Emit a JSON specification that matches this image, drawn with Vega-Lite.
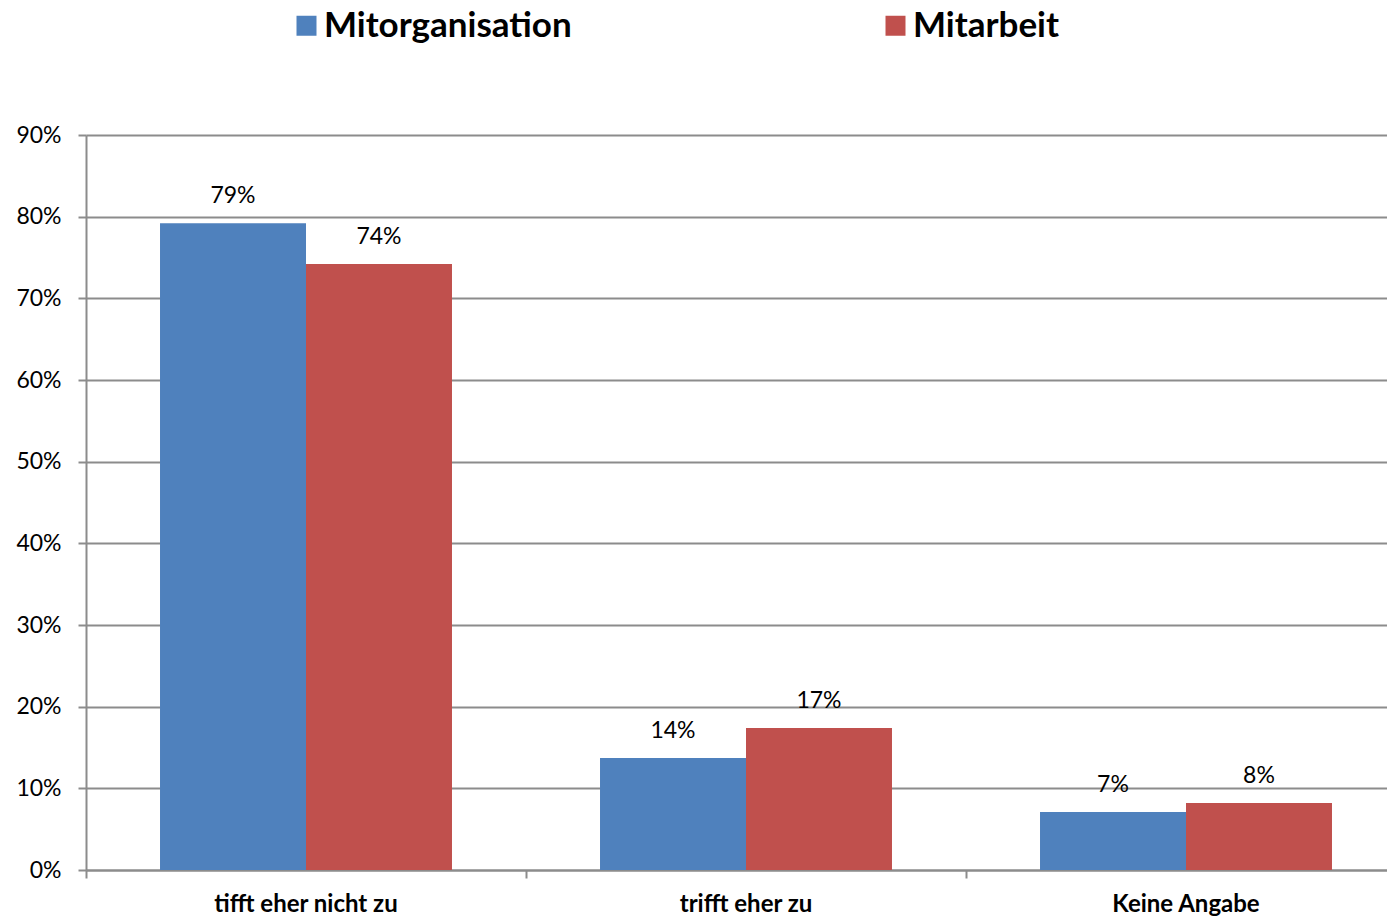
{
  "$schema": "https://vega.github.io/schema/vega-lite/v6.json",
  "width": 1301,
  "height": 735,
  "autosize": {"type": "none"},
  "padding": {"left": 86, "top": 135, "right": 0, "bottom": 49},
  "background": "white",
  "config": {
    "view": {"stroke": null},
    "font": "Lato"
  },
  "data": {
    "values": [
      {"kategorie": "tifft eher nicht zu", "serie": "Mitorganisation", "wert": 0.792},
      {"kategorie": "tifft eher nicht zu", "serie": "Mitarbeit", "wert": 0.742},
      {"kategorie": "trifft eher zu", "serie": "Mitorganisation", "wert": 0.137},
      {"kategorie": "trifft eher zu", "serie": "Mitarbeit", "wert": 0.174},
      {"kategorie": "Keine Angabe", "serie": "Mitorganisation", "wert": 0.071},
      {"kategorie": "Keine Angabe", "serie": "Mitarbeit", "wert": 0.082}
    ]
  },
  "encoding": {
    "x": {
      "field": "kategorie",
      "type": "nominal",
      "sort": ["tifft eher nicht zu", "trifft eher zu", "Keine Angabe"],
      "scale": {"range": [0, 1320], "paddingInner": 0, "paddingOuter": 0},
      "axis": {
        "title": null,
        "labelAngle": 0,
        "bandPosition": 0,
        "labelFontSize": 24,
        "labelFontWeight": "bold",
        "labelColor": "black",
        "labelPadding": 14,
        "labelLimit": 400,
        "tickSize": 8,
        "tickColor": "#8c8c8c",
        "tickWidth": 2,
        "domainColor": "#8c8c8c",
        "domainWidth": 2,
        "grid": false
      }
    },
    "xOffset": {
      "field": "serie",
      "type": "nominal",
      "sort": ["Mitorganisation", "Mitarbeit"],
      "scale": {"paddingInner": 0, "paddingOuter": 0.507}
    },
    "y": {
      "field": "wert",
      "type": "quantitative",
      "scale": {"domain": [0, 0.9], "nice": false},
      "axis": {
        "title": null,
        "format": ".0%",
        "values": [0, 0.1, 0.2, 0.3, 0.4, 0.5, 0.6, 0.7, 0.8, 0.9],
        "labelFontSize": 23,
        "labelColor": "black",
        "labelPadding": 17,
        "tickSize": 8,
        "tickColor": "#8c8c8c",
        "tickWidth": 2,
        "domainColor": "#8c8c8c",
        "domainWidth": 2,
        "grid": true,
        "gridColor": "#8c8c8c",
        "gridWidth": 2
      }
    }
  },
  "layer": [
    {
      "mark": {"type": "bar"},
      "encoding": {
        "color": {
          "field": "serie",
          "type": "nominal",
          "sort": ["Mitorganisation", "Mitarbeit"],
          "scale": {"domain": ["Mitorganisation", "Mitarbeit"], "range": ["#4F81BD", "#C0504D"]},
          "legend": {
            "title": null,
            "orient": "none",
            "direction": "horizontal",
            "legendX": 203,
            "legendY": -127,
            "symbolType": "square",
            "symbolSize": 400,
            "symbolStrokeWidth": 0,
            "symbolOpacity": 1,
            "labelFontSize": 35,
            "labelFontWeight": "bold",
            "labelColor": "black",
            "labelOffset": 0,
            "labelLimit": 500,
            "columnPadding": 306
          }
        }
      }
    },
    {
      "mark": {"type": "text", "baseline": "middle", "dy": -27, "fontSize": 23, "color": "black"},
      "encoding": {
        "text": {"field": "wert", "type": "quantitative", "format": ".0%"}
      }
    }
  ]
}
